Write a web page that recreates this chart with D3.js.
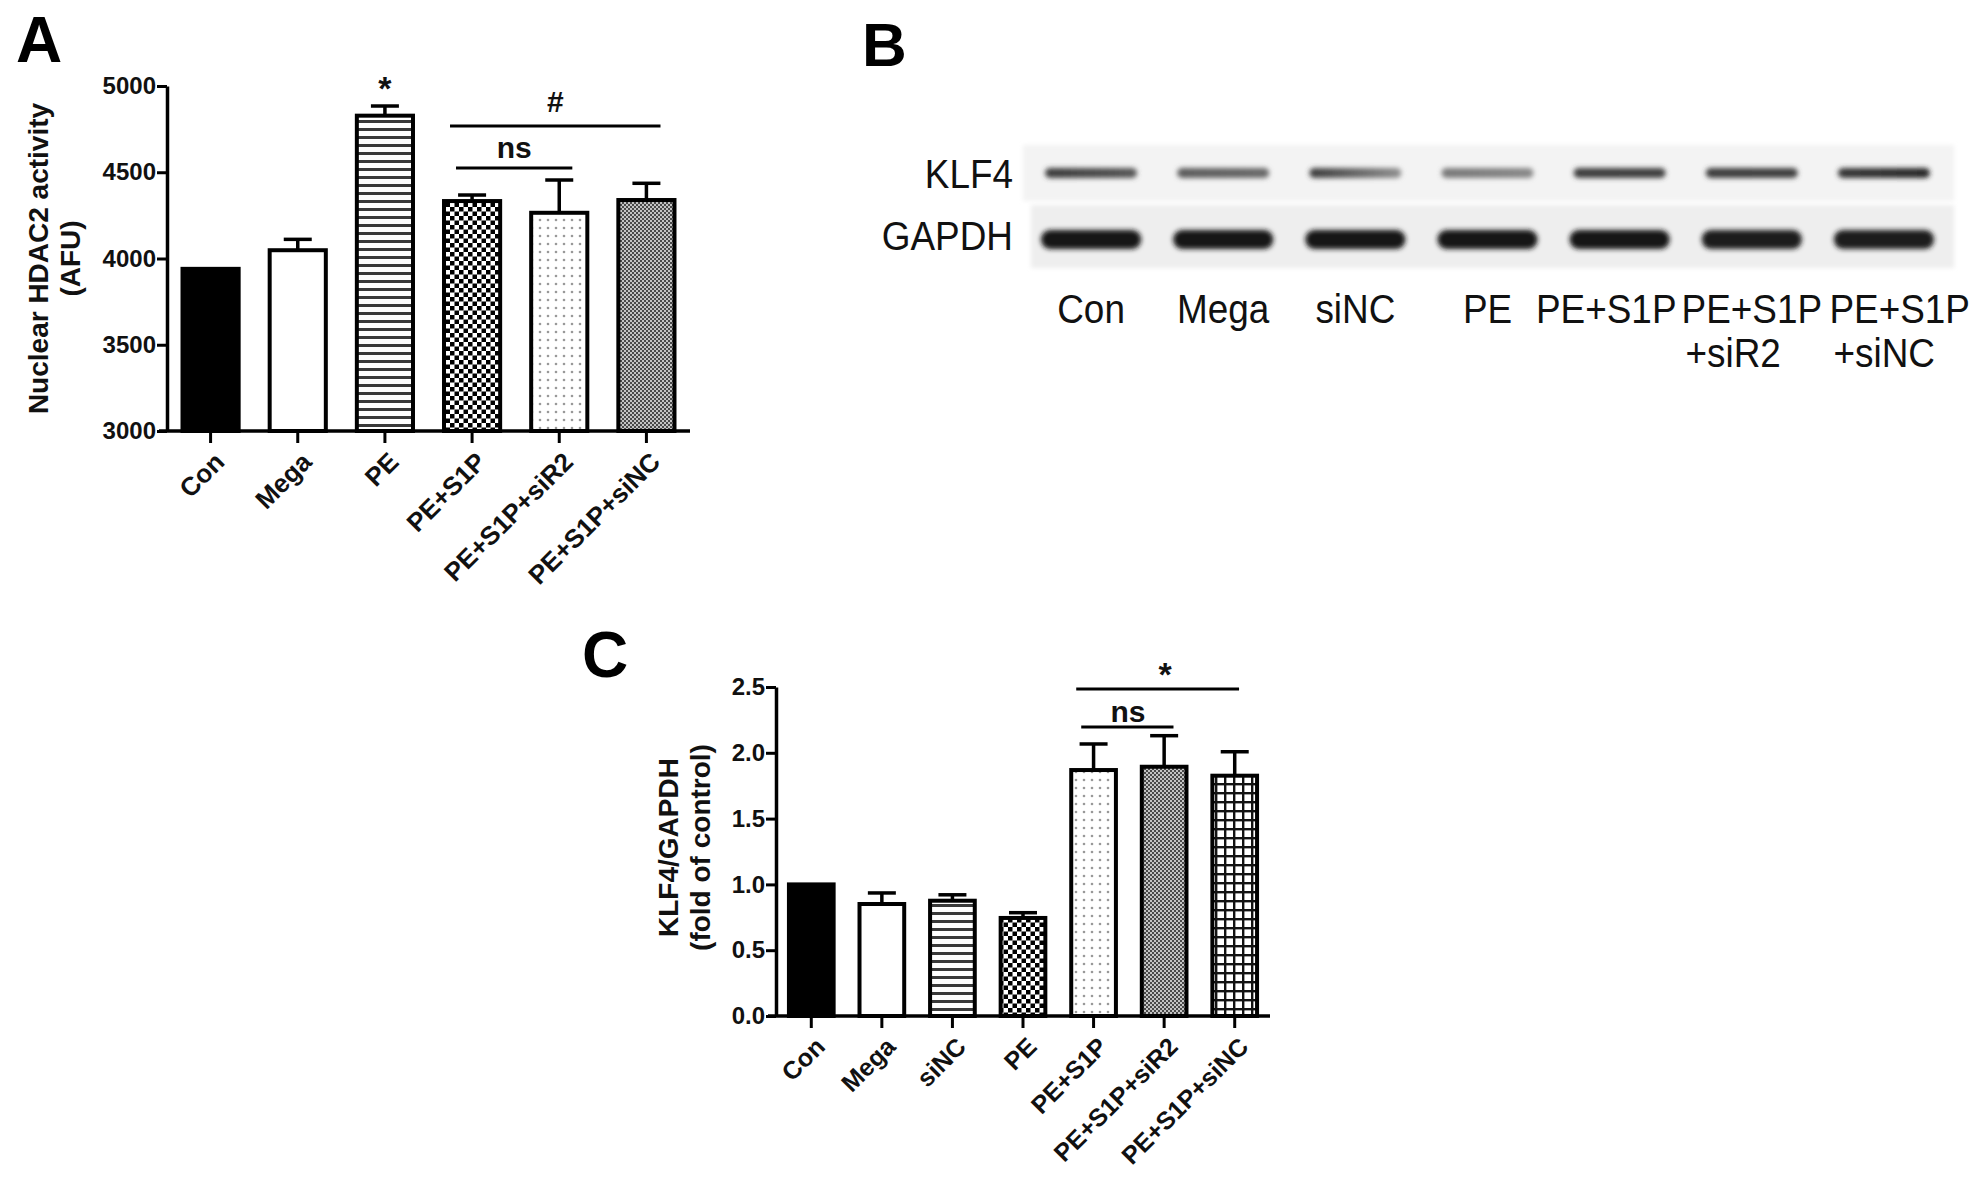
<!DOCTYPE html>
<html><head><meta charset="utf-8">
<script src="https://cdn.jsdelivr.net/npm/d3@7"></script>
<style>body{margin:0;background:#fff} svg{display:block}</style>
</head><body><svg id="c" width="1984" height="1185"></svg>
<script>
// ---------- DATA ----------
const catsA = ["Con","Mega","PE","PE+S1P","PE+S1P+siR2","PE+S1P+siNC"];
const meanA = [3940,4048,4828,4333,4265,4339];
const errA  = [0,63,56,35,190,97];
const yTicksA = [3000,3500,4000,4500,5000];
const fillsA = ["solid","white","hlines","checker","dots","fine"];

const catsC = ["Con","Mega","siNC","PE","PE+S1P","PE+S1P+siR2","PE+S1P+siNC"];
const meanC = [1.0,0.851,0.876,0.745,1.869,1.894,1.826];
const errC  = [0,0.084,0.045,0.04,0.198,0.236,0.182];
const yTicksC = [0.0,0.5,1.0,1.5,2.0,2.5];
const fillsC = ["solid","white","hlines","checker","dots","fine","grid"];

const lanesB = ["Con","Mega","siNC","PE","PE+S1P","PE+S1P|+siR2","PE+S1P|+siNC"];
const klf4Left  = [0.82,0.68,0.82,0.55,0.82,0.82,0.84];
const klf4Right = [0.70,0.62,0.45,0.48,0.80,0.80,0.92];
const gapdhInt  = [1.0,0.98,0.98,1.0,0.98,0.96,0.97];
const blotRows = ["KLF4","GAPDH"];

// ---------- SETUP ----------
const svg = d3.select("#c");
const defs = svg.append("defs");
const BOLD = "'Liberation Sans', Arial, Helvetica, sans-serif";

function pat(id, w, h, draw){
  const p = defs.append("pattern").attr("id",id).attr("patternUnits","userSpaceOnUse")
    .attr("width",w).attr("height",h);
  draw(p);
}
pat("hlines",8,8,p=>{p.append("rect").attr("width",8).attr("height",8).attr("fill","#fff");
  p.append("rect").attr("y",0).attr("width",8).attr("height",3).attr("fill","#3a3a3a");});
pat("checker",9,9,p=>{p.append("rect").attr("width",9).attr("height",9).attr("fill","#fff");
  p.append("rect").attr("width",4.5).attr("height",4.5).attr("fill","#000");
  p.append("rect").attr("x",4.5).attr("y",4.5).attr("width",4.5).attr("height",4.5).attr("fill","#000");});
pat("dots",8,8,p=>{p.append("rect").attr("width",8).attr("height",8).attr("fill","#fff");
  p.append("circle").attr("cx",4).attr("cy",4).attr("r",1.3).attr("fill","#999");});
pat("fine",4,4,p=>{p.append("rect").attr("width",4).attr("height",4).attr("fill","#c4c4c4");
  p.append("rect").attr("width",2).attr("height",2).attr("fill","#4a4a4a");
  p.append("rect").attr("x",2).attr("y",2).attr("width",2).attr("height",2).attr("fill","#4a4a4a");});
pat("grid",9,9,p=>{p.append("rect").attr("width",9).attr("height",9).attr("fill","#fff");
  p.append("rect").attr("width",9).attr("height",2.4).attr("fill","#111");
  p.append("rect").attr("width",2.4).attr("height",9).attr("fill","#111");});

function fillOf(k){ return k==="solid" ? "#000" : k==="white" ? "#fff" : `url(#${k})`; }

// ---------- BAR PANEL ----------
function barPanel(o){
  const g = svg.append("g");
  const x = d3.scaleBand().domain(o.cats).range(o.xr).paddingInner(0.31).paddingOuter(0.155);
  const y = d3.scaleLinear().domain(o.dom).range(o.yr);
  const data = o.cats.map((c,i)=>({c, v:o.mean[i], e:o.err[i], f:o.fills[i]}));

  g.selectAll(".eb").data(data.filter(d=>d.e>0)).join("g").each(function(d){
    const cx = x(d.c)+x.bandwidth()/2;
    const s = d3.select(this);
    s.append("line").attr("x1",cx).attr("x2",cx).attr("y1",y(d.v)).attr("y2",y(d.v+d.e))
      .attr("stroke","#000").attr("stroke-width",3.5);
    s.append("line").attr("x1",cx-14).attr("x2",cx+14).attr("y1",y(d.v+d.e)).attr("y2",y(d.v+d.e))
      .attr("stroke","#000").attr("stroke-width",3.5);
  });
  g.selectAll(".bar").data(data).join("rect")
    .attr("x",d=>x(d.c)+2).attr("width",x.bandwidth()-4)
    .attr("y",d=>y(d.v)).attr("height",d=>y(o.dom[0])-y(d.v))
    .attr("fill",d=>fillOf(d.f)).attr("stroke","#000").attr("stroke-width",4);

  const ya = g.append("g").attr("transform",`translate(${o.xr[0]},0)`)
    .call(d3.axisLeft(y).tickValues(o.ticks).tickFormat(o.fmt).tickSize(10).tickSizeOuter(0).tickPadding(1));
  const xa = g.append("g").attr("transform",`translate(0,${o.yr[0]})`)
    .call(d3.axisBottom(x).tickSize(12).tickSizeOuter(0));
  [ya,xa].forEach(a=>{
    a.select(".domain").attr("stroke","#000").attr("stroke-width",3.5);
    a.selectAll(".tick line").attr("stroke","#000").attr("stroke-width",3);
  });
  ya.selectAll("text").attr("font-family",BOLD).attr("font-weight","bold")
    .attr("font-size",o.tickFs).attr("fill","#111");
  xa.selectAll("text").attr("font-family",BOLD).attr("font-weight","bold")
    .attr("font-size",o.xFs).attr("fill","#111")
    .attr("text-anchor","end").attr("x",0).attr("y",0).attr("dy","0.35em")
    .attr("transform","translate(9,26) rotate(-45)");
  xa.select(".domain").attr("d",`M${o.xr[0]-8},0H${o.xr[1]}`);

  const ym = (o.yr[0]+o.yr[1])/2 + o.titleShift;
  o.title.forEach((t,i)=>{
    g.append("text").attr("transform",`translate(${o.titleX[i]},${ym}) rotate(-90)`)
      .attr("text-anchor","middle").attr("dy","0.35em")
      .attr("font-family",BOLD).attr("font-weight","bold").attr("font-size",o.titleFs)
      .attr("fill","#111").text(t);
  });
  g.append("text").attr("x",o.letter[1]).attr("y",o.letter[2]).attr("font-family",BOLD)
    .attr("font-weight","bold").attr("font-size",64).attr("fill","#000").text(o.letter[0]);
  return {g,x,y};
}

function sigLine(p, fromCat, toCat, o1, o2, yy, label, lx, ly, fs){
  const x1 = p.x(fromCat)+o1, x2 = p.x(toCat)+p.x.bandwidth()+o2;
  p.g.append("line").attr("x1",x1).attr("x2",x2).attr("y1",yy).attr("y2",yy)
    .attr("stroke","#000").attr("stroke-width",3);
  p.g.append("text").attr("x",lx===null?(x1+x2)/2:lx).attr("y",ly).attr("text-anchor","middle")
    .attr("font-family",BOLD).attr("font-weight","bold").attr("font-size",fs).attr("fill","#111").text(label);
}

// Panel A
const pA = barPanel({cats:catsA, mean:meanA, err:errA, fills:fillsA, dom:[3000,5000], ticks:yTicksA,
  xr:[167,690], yr:[431,86], fmt:d3.format("d"), tickFs:24, xFs:26, titleFs:28,
  title:["Nuclear HDAC2 activity","(AFU)"], titleX:[38,70], titleShift:0, letter:["A",16,62]});
pA.g.append("text").attr("x",pA.x("PE")+pA.x.bandwidth()/2).attr("y",pA.y(meanA[2]+errA[2])-6)
  .attr("text-anchor","middle").attr("font-family",BOLD).attr("font-weight","bold")
  .attr("font-size",34).attr("fill","#111").text("*");
sigLine(pA,"PE+S1P","PE+S1P+siNC",8,-16,126,"#",null,112,30);
sigLine(pA,"PE+S1P","PE+S1P+siR2",14,-17,168,"ns",null,158,30);

// Panel C
const pC = barPanel({cats:catsC, mean:meanC, err:errC, fills:fillsC, dom:[0,2.5], ticks:yTicksC,
  xr:[776,1270], yr:[1016,687], fmt:d3.format(".1f"), tickFs:24, xFs:25, titleFs:28,
  title:["KLF4/GAPDH","(fold of control)"], titleX:[668,700], titleShift:-4, letter:["C",582,677]});
sigLine(pC,"PE+S1P","PE+S1P+siNC",7,-20,689,"*",1165,686,34);
sigLine(pC,"PE+S1P","PE+S1P+siR2",12,-15,727,"ns",1128,722,30);

// ---------- PANEL B (blot) ----------
const gB = svg.append("g");
gB.append("text").attr("x",862).attr("y",66).attr("font-family",BOLD).attr("font-weight","bold")
  .attr("font-size",62).attr("fill","#000").text("B");
const blur = defs.append("filter").attr("id","blur").attr("x","-20%").attr("y","-80%").attr("width","140%").attr("height","260%");
blur.append("feGaussianBlur").attr("stdDeviation",2.8);
const blurS = defs.append("filter").attr("id","blurS").attr("x","-5%").attr("y","-20%").attr("width","110%").attr("height","140%");
blurS.append("feGaussianBlur").attr("stdDeviation",2);

const xL = d3.scaleBand().domain(lanesB).range([1025,1950]);
const rowY = d3.scaleOrdinal().domain(blotRows).range([[145,201],[205,268]]);
gB.append("rect").attr("x",1023).attr("y",rowY("KLF4")[0]).attr("width",931)
  .attr("height",rowY("KLF4")[1]-rowY("KLF4")[0]).attr("fill","#f3f3f3").attr("filter","url(#blurS)");
gB.append("rect").attr("x",1031).attr("y",rowY("GAPDH")[0]).attr("width",923)
  .attr("height",rowY("GAPDH")[1]-rowY("GAPDH")[0]).attr("fill","#eeeeee").attr("filter","url(#blurS)");
const shade = d3.interpolateRgb("#f3f3f3","#141414");
lanesB.forEach((l,i)=>{
  const gid = "kg"+i;
  const lg = defs.append("linearGradient").attr("id",gid);
  lg.append("stop").attr("offset","0%").attr("stop-color",shade(klf4Left[i]));
  lg.append("stop").attr("offset","100%").attr("stop-color",shade(klf4Right[i]));
  const cx = xL(l)+xL.bandwidth()/2;
  gB.append("rect").attr("x",cx-46).attr("width",92).attr("y",168).attr("height",10).attr("rx",5)
    .attr("fill",`url(#${gid})`).attr("filter","url(#blur)");
  gB.append("rect").attr("x",cx-50).attr("width",100).attr("y",230).attr("height",19).attr("rx",9)
    .attr("fill",shade(gapdhInt[i])).attr("filter","url(#blur)");
});
const SX = 0.9;
function narrowText(parent, x, y, anchor, str){
  return parent.append("g").attr("transform",`translate(${x},${y}) scale(${SX},1)`)
    .append("text").attr("text-anchor",anchor).attr("font-family",BOLD)
    .attr("font-size",41).attr("fill","#111").text(str);
}
narrowText(gB,1013,188,"end","KLF4");
narrowText(gB,1013,250,"end","GAPDH");

// lane labels: last one right-aligned to the edge, others centred on lanes unless they would collide
const lab = lanesB.map(l=>({l, parts:l.split("|")}));
const meas = gB.append("text").attr("font-family",BOLD).attr("font-size",41);
lab.forEach(d=>{ meas.text(d.parts[0]); d.w = meas.node().getComputedTextLength()*SX; });
meas.remove();
let limit = 1970;
for(let i=lab.length-1;i>=0;i--){
  const d = lab[i];
  const c = xL(d.l)+xL.bandwidth()/2;
  const right = (i===lab.length-1) ? limit : Math.min(c + d.w/2, limit);
  d.left = right - d.w;
  limit = d.left - 5;
}
lab.forEach(d=>{
  narrowText(gB, d.left, 323, "start", d.parts[0]);
  if(d.parts[1]) narrowText(gB, d.left+4, 367, "start", d.parts[1]);
});
</script></body></html>
